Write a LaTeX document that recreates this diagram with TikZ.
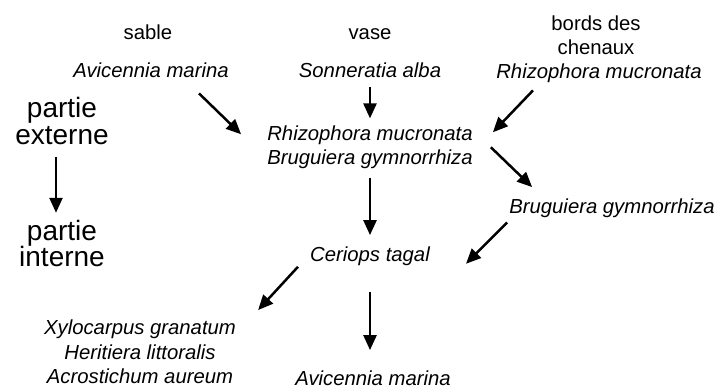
\documentclass[tikz,border=0pt]{standalone}
\usepackage{fontspec}
\setmainfont{Liberation Sans}
\usetikzlibrary{arrows.meta}
\tikzset{
  habitat/.style={font=\fontsize{20.3}{24.5}\selectfont, align=center, inner sep=0pt, text=black},
  species/.style={habitat, font=\fontsize{20.3}{24.5}\selectfont\itshape},
  zone/.style={habitat, font=\fontsize{28}{26.5}\selectfont},
  succ/.style={-{Triangle[length=15pt,width=13pt]}, line width=2.5pt, draw=black},
}

\begin{document}
\begin{tikzpicture}[x=1pt,y=-1pt]
\useasboundingbox (0,0) rectangle (719,388);
% milieux
\node[habitat,anchor=base] (sable) at (148,39) {sable};
\node[habitat,anchor=base] (vase) at (370,39) {vase};
\node[habitat] (bords) at (596,35.2) {bords des\\chenaux};
% zonation
\node[zone] (externe) at (62,121) {partie\\externe};
\node[zone] (interne) at (62,243.5) {partie\\interne};
% especes
\node[species,anchor=base] (avtop) at (151,77) {Avicennia marina};
\node[species,anchor=base] (sonn) at (370,77) {Sonneratia alba};
\node[species,anchor=base] (rhizR) at (599,78) {Rhizophora mucronata};
\node[species] (mid) at (370,147.3) {Rhizophora mucronata\\Bruguiera gymnorrhiza};
\node[species,anchor=base] (brugR) at (612,213) {Bruguiera gymnorrhiza};
\node[species,anchor=base] (ceriops) at (370,261) {Ceriops tagal};
\node[species] (xylo) at (140,352.2) {Xylocarpus granatum\\Heritiera littoralis\\Acrostichum aureum};
\node[species,anchor=base] (avbot) at (373,385) {Avicennia marina};
% successions
\draw[succ] ([shift={(48,16)}]avtop.south) -- ([shift={(-26,-13)}]mid.west);
\draw[succ, shorten <=10pt, shorten >=7pt] (sonn.south) -- (mid.north);
\draw[succ] ([shift={(-66,8)}]rhizR.south) -- ([shift={(20,-15)}]mid.east);
\draw[succ] ([shift={(18,0)}]mid.east) -- ([shift={(23,-11)}]brugR.north west);
\draw[succ, shorten <=9pt, shorten >=11pt] (mid.south) -- (ceriops.north);
\draw[succ] ([shift={(-2,5)}]brugR.south west) -- ([shift={(36,8)}]ceriops.east);
\draw[succ] ([shift={(-12,11)}]ceriops.west) -- ([shift={(22,-10)}]xylo.north east);
\draw[succ, shorten <=27pt, shorten >=20pt] (ceriops.south) -- (ceriops.south |- avbot.north);
\draw[succ, shorten <=12pt, shorten >=7pt] ([xshift=-6pt]externe.south) -- ([xshift=-6pt]interne.north);
\end{tikzpicture}
\end{document}
